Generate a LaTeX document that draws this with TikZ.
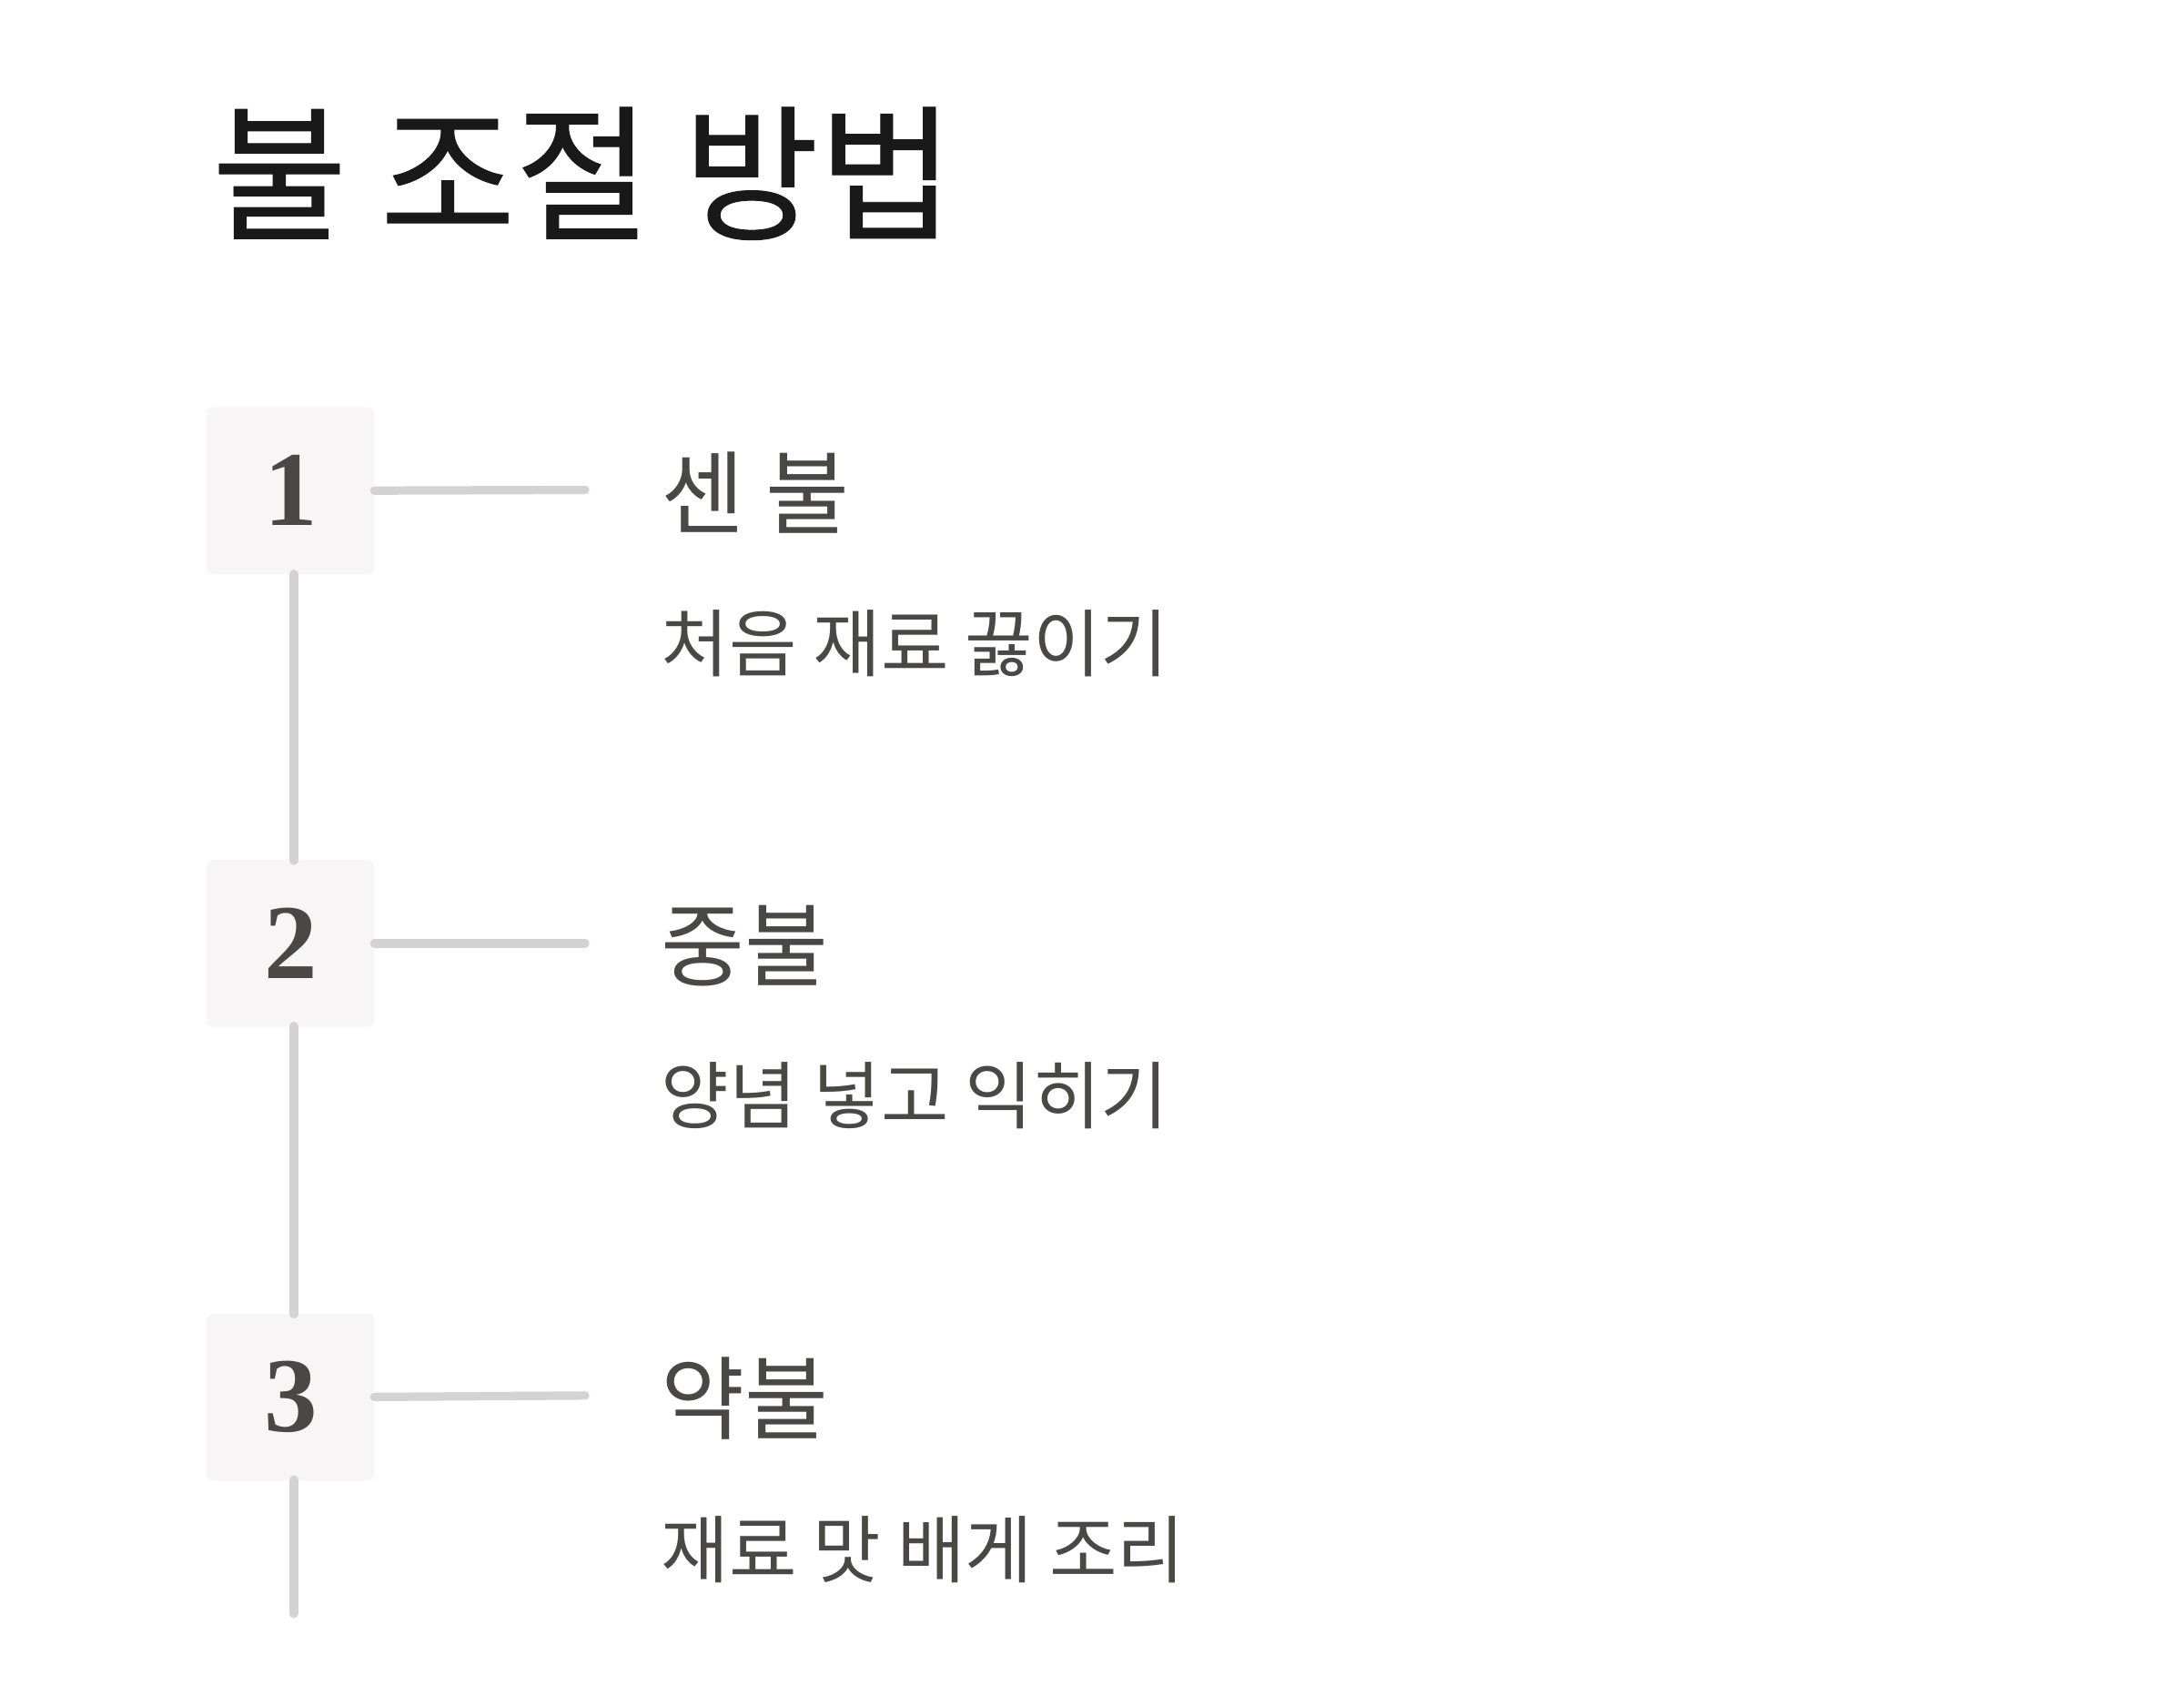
\documentclass[tikz,border=0pt]{standalone}
\usepackage{fontspec}
\newfontfamily\kr{Noto Sans CJK KR}
\newfontfamily\krb{Noto Sans CJK KR}[BoldFont=*,BoldFeatures={FakeBold=0.6}]
\newfontfamily\numf{Liberation Serif}
\definecolor{ink}{HTML}{4A4845}
\definecolor{boxc}{HTML}{F7F5F5}
\definecolor{linec}{HTML}{D5D2D2}
\begin{document}
\begin{tikzpicture}[x=0.5pt,y=-0.5pt,
  numbox/.style={fill=boxc,rounded corners=2pt,minimum width=59.5pt,minimum height=59.5pt,inner sep=0,font=\numf\bfseries\fontsize{38}{38}\selectfont,text=ink},
  conn/.style={draw=linec,line width=3pt,line cap=round},
  head/.style={anchor=west,inner sep=0,font=\kr\fontsize{32.5}{33}\selectfont,text=ink},
  sub/.style={anchor=west,inner sep=0,font=\kr\fontsize{26.3}{27}\selectfont,text=ink}]
\useasboundingbox (0,0) rectangle (1560,1218);
\node[anchor=west,inner sep=0,font=\krb\bfseries\fontsize{52.5}{54}\selectfont,text=black!90] (title) at (151,124) {불 조절 방법};
\node[numbox] (b1) at (207.5,350.5) {1};
\node[numbox] (b2) at (207.5,674) {2};
\node[numbox] (b3) at (207.5,998) {3};
\coordinate (e1) at (418,350);
\coordinate (e2) at (418,674);
\coordinate (e3) at (418,997);
\coordinate (bot) at (210,1153);
\draw[conn] (b1.east) -- (e1);
\draw[conn] (b2.east) -- (e2);
\draw[conn] (b3.east) -- (e3);
\draw[conn] (210,410) -- (210,615);
\draw[conn] (210,733) -- (210,939);
\draw[conn] (210,1057) -- (bot);
\node[head] (h1) at (472,352) {센 불};
\node[sub] (s1) at (472,460) {처음 재료 끓이기};
\node[head] (h2) at (472,676) {중불};
\node[sub] (s2) at (472,783) {양념 넣고 익히기};
\node[head] (h3) at (472,999) {약불};
\node[sub] (s3) at (472,1107) {재료 맛 배게 조리};
\end{tikzpicture}
\end{document}
